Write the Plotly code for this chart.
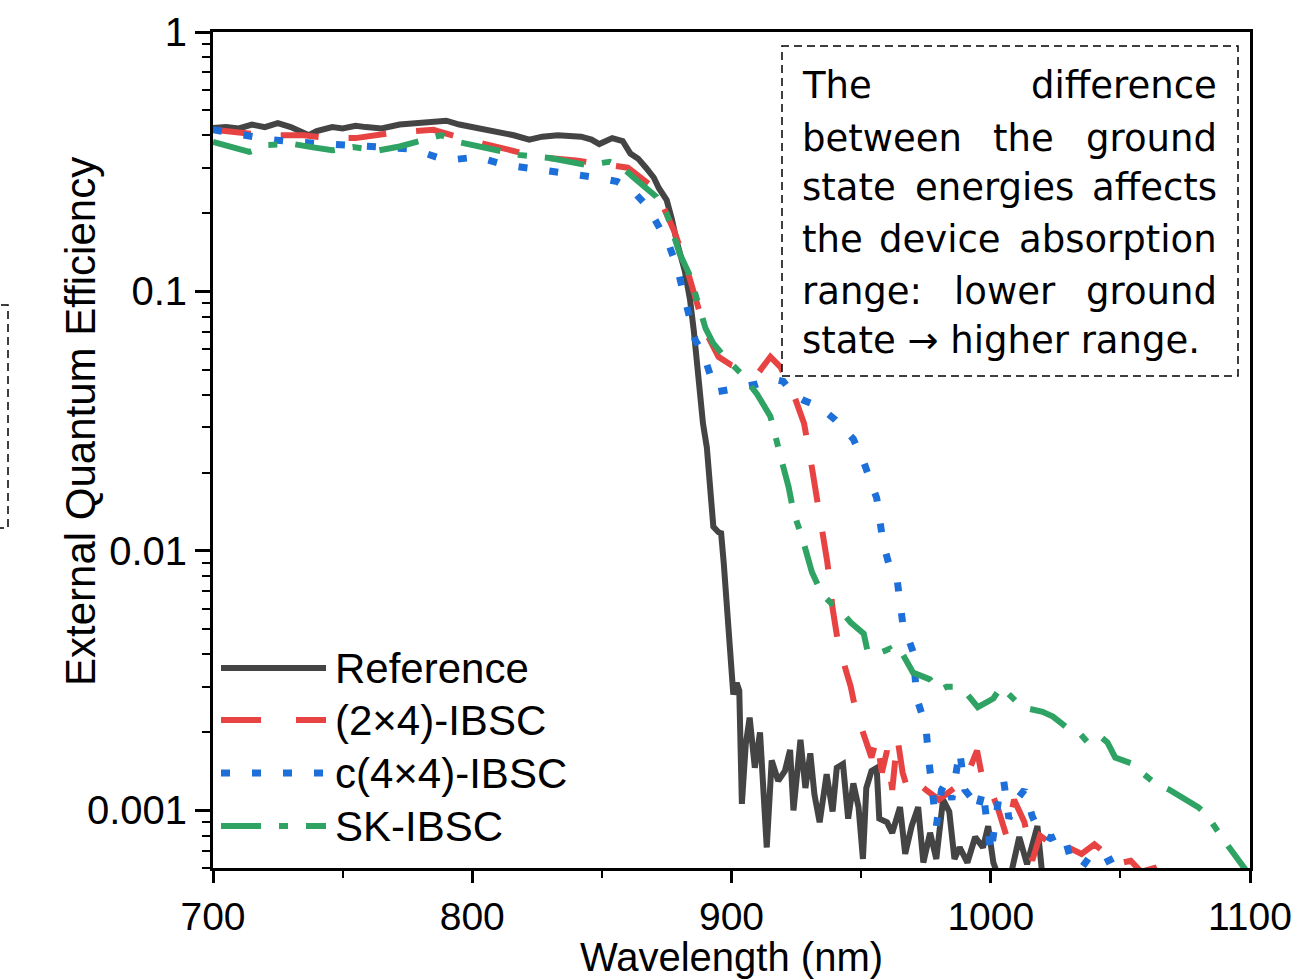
import plotly.graph_objects as go
import math

# ---------------- data ----------------
ref_wl = [700, 705, 710, 715, 720, 725, 730, 735, 737, 740, 746, 750, 755, 759, 765, 772, 778, 785, 790, 795,
          800, 805, 811, 816, 822, 827, 833, 838, 842, 846, 849, 854, 858, 861, 864, 867, 870, 872, 875, 877,
          879, 882, 884, 885.5, 886.7, 888, 889, 890.5, 892, 893, 895, 896, 897, 898, 899, 900, 900.7, 902, 903, 904,
          905.5, 907, 909, 911, 913.6, 915.5, 918, 920.6, 922.6, 923.9, 926.6, 928.5, 930.4, 932, 934, 936.7, 939, 940.6, 943, 945,
          947, 949, 950.7, 952, 954, 956, 957, 960, 962, 965, 967, 969.5, 972, 974, 976.6, 979, 981.6, 984, 986, 988,
          991, 994, 997, 999, 1001, 1004, 1008, 1011, 1014, 1018, 1020, 1025, 1030]
ref_eqe = [0.427, 0.43, 0.425, 0.44, 0.43, 0.445, 0.43, 0.41, 0.40, 0.415, 0.43, 0.425, 0.435, 0.43, 0.425, 0.44, 0.445, 0.45, 0.455, 0.44,
           0.43, 0.425, 0.41, 0.40, 0.385, 0.395, 0.40, 0.40, 0.395, 0.385, 0.37, 0.39, 0.38, 0.34, 0.325, 0.30, 0.275, 0.25, 0.225, 0.19,
           0.154, 0.12, 0.093, 0.07, 0.051, 0.038, 0.031, 0.025, 0.017, 0.0124, 0.0118, 0.0117, 0.009, 0.0065, 0.0045, 0.0031, 0.0028, 0.0031, 0.0029, 0.00106,
           0.0018, 0.00228, 0.00146, 0.0020, 0.00072, 0.00156, 0.00130, 0.00142, 0.00171, 0.00100, 0.00187, 0.00122, 0.00166, 0.00115, 0.00090, 0.00138, 0.00099, 0.00146, 0.00151, 0.00093,
           0.00127, 0.00103, 0.00065, 0.00122, 0.00142, 0.00146, 0.00093, 0.00090, 0.00082, 0.00103, 0.00068, 0.00087, 0.00103, 0.00063, 0.00082, 0.00065, 0.00110, 0.00099, 0.00065, 0.00072,
           0.00063, 0.00079, 0.00072, 0.00087, 0.00063, 0.00052, 0.00058, 0.00079, 0.00062, 0.00087, 0.00055, 0.00050, 0.00048]

ibsc24_wl = [700, 710, 720, 735, 745, 755, 770, 785, 800, 815, 825, 840, 850, 860, 868, 873, 878, 882, 886, 890,
             895, 900, 906, 910, 915, 919, 924, 928, 931, 934, 937, 939, 941, 944, 946, 948, 950, 952, 954, 956,
             958, 960, 962, 964, 966, 968, 971, 975, 980, 985, 990, 994.7, 997, 1000, 1003, 1006, 1009, 1013, 1016, 1019,
             1022, 1026, 1030, 1035, 1040, 1043, 1048, 1054, 1058, 1063, 1066]
ibsc24_eqe = [0.42, 0.41, 0.40, 0.40, 0.39, 0.39, 0.41, 0.42, 0.38, 0.35, 0.33, 0.32, 0.31, 0.30, 0.26, 0.22, 0.17, 0.13, 0.095, 0.07,
              0.056, 0.052, 0.050, 0.048, 0.056, 0.051, 0.040, 0.031, 0.021, 0.014, 0.009, 0.006, 0.0045, 0.0035, 0.0030, 0.0024, 0.0021, 0.0019, 0.0016, 0.0019,
              0.0014, 0.0017, 0.0012, 0.0019, 0.0014, 0.0012, 0.0013, 0.0012, 0.0011, 0.0012, 0.0013, 0.0017, 0.0013, 0.0012, 0.0010, 0.0008, 0.0011, 0.0009, 0.00064, 0.0008,
              0.00076, 0.0008, 0.00072, 0.00068, 0.00074, 0.0007, 0.00062, 0.00064, 0.00058, 0.0006, 0.00052]

ibsc44_wl = [700, 706, 712, 722, 735, 745, 760, 777, 790, 802, 813, 826, 836, 849, 856, 862, 868, 872, 876, 879,
             883, 886, 889, 894, 900, 905, 910, 916, 920, 924, 928, 934, 940, 947, 951, 956, 958.5, 961, 964, 966,
             970, 971.5, 973, 975, 976, 977, 978, 979, 981, 983, 985, 988, 990, 993, 995, 997, 1000, 1003, 1005, 1007,
             1010, 1013, 1016, 1019, 1023, 1028, 1031, 1035, 1039, 1044, 1048, 1052]
ibsc44_eqe = [0.42, 0.41, 0.40, 0.385, 0.375, 0.37, 0.36, 0.354, 0.32, 0.33, 0.307, 0.296, 0.286, 0.274, 0.265, 0.244, 0.21, 0.177, 0.15, 0.124,
              0.085, 0.065, 0.058, 0.041, 0.042, 0.043, 0.044, 0.046, 0.045, 0.040, 0.038, 0.036, 0.032, 0.027, 0.022, 0.016, 0.0107, 0.0087, 0.0076, 0.0053,
              0.0041, 0.0027, 0.0024, 0.0021, 0.0016, 0.0013, 0.0010, 0.00087, 0.0012, 0.0013, 0.0011, 0.0017, 0.0012, 0.0011, 0.0010, 0.0012, 0.00068, 0.0011, 0.0013, 0.00093,
              0.0011, 0.0012, 0.00095, 0.00082, 0.00078, 0.00082, 0.00064, 0.0006, 0.00068, 0.00063, 0.00066, 0.00055]

sk_wl = [700, 707, 714, 721, 731, 738, 746, 754, 764, 772, 779, 788, 795, 803, 811, 818, 830, 837, 844, 853,
         858, 862, 867, 871, 875, 878, 880, 884, 888, 890, 893, 898, 904, 910, 915, 917.5, 919.5, 922, 924, 927,
         929, 931, 935, 939, 942, 946, 951, 952.5, 956, 961, 963, 966, 970, 976.5, 980, 983, 986, 991, 995, 998.5,
         1001, 1004, 1007, 1012, 1020, 1024, 1029, 1034, 1038, 1043, 1045, 1048, 1054, 1058, 1063, 1069, 1072, 1076, 1080, 1083,
         1085, 1088, 1092, 1095, 1098, 1100]
sk_eqe = [0.377, 0.36, 0.345, 0.367, 0.37, 0.36, 0.35, 0.36, 0.35, 0.362, 0.376, 0.40, 0.376, 0.36, 0.345, 0.336, 0.327, 0.317, 0.307, 0.316,
          0.30, 0.276, 0.25, 0.232, 0.20, 0.165, 0.14, 0.115, 0.085, 0.072, 0.063, 0.055, 0.048, 0.040, 0.033, 0.027, 0.022, 0.0177, 0.014, 0.0115,
          0.0098, 0.0083, 0.0068, 0.0062, 0.0059, 0.0053, 0.0048, 0.0041, 0.0040, 0.0042, 0.0039, 0.0040, 0.0034, 0.0032, 0.0029, 0.0030, 0.0030, 0.0028, 0.0025, 0.0026,
          0.0027, 0.0030, 0.0028, 0.0025, 0.0024, 0.0023, 0.0021, 0.0020, 0.0018, 0.0019, 0.00183, 0.0016, 0.00152, 0.0014, 0.00128, 0.0012, 0.00115, 0.0011, 0.00103, 0.00097,
          0.0009, 0.00082, 0.00072, 0.00065, 0.0006, 0.00056]

x_ticks = [700, 800, 900, 1000, 1100]
x_minor = [750, 850, 950, 1050]
y_ticks = [0.001, 0.01, 0.1, 1]
y_ticktext = ["0.001", "0.01", "0.1", "1"]
y_minor = [m * 10.0 ** e for e in (-4, -3, -2, -1) for m in range(2, 10) if m * 10.0 ** e >= 0.0006]

names = ["Reference", "(2×4)-IBSC", "c(4×4)-IBSC", "SK-IBSC"]
colors = ["#444444", "#E84343", "#1D6FDA", "#2FA363"]
dashes = ["solid", "38px,30px", "9px,22px", "40px,18px,9px,18px"]
widths = [6, 6, 7, 6]

note_lines = [
    ["The", "difference"],
    ["between", "the", "ground"],
    ["state", "energies", "affects"],
    ["the", "device", "absorption"],
    ["range:", "lower", "ground"],
    ["state → higher range."],
]

# ---------------- layout geometry (px) ----------------
W, H = 1303, 979
L, R, T, B = 213, 1250, 32, 868


def px(x):
    return (x - L) / (R - L)


def py(y):
    return (B - y) / (B - T)


fig = go.Figure()
series = [(ref_wl, ref_eqe), (ibsc24_wl, ibsc24_eqe), (ibsc44_wl, ibsc44_eqe), (sk_wl, sk_eqe)]
for (xs, ys), n, c, d, w in zip(series, names, colors, dashes, widths):
    fig.add_trace(go.Scatter(x=xs, y=ys, mode="lines", name=n,
                             line=dict(color=c, width=w, dash=d), showlegend=False))

FONT = "Liberation Sans, Arial, sans-serif"
shapes = []
annotations = []

# custom legend
leg_y = [668, 720, 773, 826]
for i, (n, c, d, w) in enumerate(zip(names, colors, dashes, widths)):
    shapes.append(dict(type="line", xref="paper", yref="paper",
                       x0=px(221), x1=px(326), y0=py(leg_y[i]), y1=py(leg_y[i]),
                       line=dict(color=c, width=w, dash=d if i != 1 else "40px,35px")))
    annotations.append(dict(text=n, xref="paper", yref="paper", x=px(333), y=py(leg_y[i]),
                            xanchor="left", yanchor="middle", showarrow=False,
                            font=dict(family=FONT, size=42, color="black")))

# y-axis title (placed as in the reference)
annotations.append(dict(text="External Quantum Efficiency", xref="paper", yref="paper",
                        x=px(80), y=py(422), xanchor="center", yanchor="middle", textangle=-90,
                        showarrow=False, font=dict(family=FONT, size=42, color="black")))

# note box
shapes.append(dict(type="rect", xref="paper", yref="paper", x0=px(782), x1=px(1238), y0=py(376), y1=py(46),
                   line=dict(color="black", width=1.5, dash="8px,5px"), fillcolor="white", layer="above"))
# partial dashed box at left edge
shapes.append(dict(type="rect", xref="paper", yref="paper", x0=px(-30), x1=px(8), y0=py(528), y1=py(305),
                   line=dict(color="black", width=1.5, dash="8px,5px"), fillcolor="rgba(0,0,0,0)"))

line_y = [86, 138, 188, 240, 291, 341]
mid_centers = {1: [1023], 2: [994], 3: [940], 4: [1005]}
NOTE_FONT = dict(family="DejaVu Sans, Verdana, sans-serif", size=37, color="black")
for i, words in enumerate(note_lines):
    yv = py(line_y[i])
    annotations.append(dict(text=words[0], xref="paper", yref="paper", x=px(800), y=yv,
                            xanchor="left", yanchor="middle", showarrow=False, font=NOTE_FONT))
    if len(words) == 1:
        continue
    annotations.append(dict(text=words[-1], xref="paper", yref="paper", x=px(1219), y=yv,
                            xanchor="right", yanchor="middle", showarrow=False, font=NOTE_FONT))
    for w, cx in zip(words[1:-1], mid_centers.get(i, [])):
        annotations.append(dict(text=w, xref="paper", yref="paper", x=px(cx), y=yv,
                                xanchor="center", yanchor="middle", showarrow=False, font=NOTE_FONT))

fig.update_layout(
    width=W, height=H,
    margin=dict(l=L, r=W - R, t=T, b=H - B, autoexpand=False),
    paper_bgcolor="white", plot_bgcolor="white",
    showlegend=False,
    shapes=shapes, annotations=annotations,
    font=dict(family=FONT, size=40, color="black"),
)
fig.update_xaxes(
    range=[700, 1100], tickmode="array", tickvals=x_ticks,
    ticks="outside", ticklen=12, tickwidth=2.5, tickcolor="black",
    showline=True, linewidth=3, linecolor="black", mirror=True,
    showgrid=False, zeroline=False, ticklabelstandoff=0,
    tickfont=dict(family=FONT, size=39, color="black"),
    minor=dict(tickmode="array", tickvals=x_minor, ticks="outside", ticklen=7, tickwidth=2, tickcolor="black", showgrid=False),
    title=dict(text="Wavelength (nm)", font=dict(family=FONT, size=40, color="black"), standoff=16),
)
fig.update_yaxes(
    type="log", range=[math.log10(0.0006), 0], tickmode="array", tickvals=y_ticks, ticktext=y_ticktext,
    ticks="outside", ticklen=15, tickwidth=2.5, tickcolor="black",
    showline=True, linewidth=3, linecolor="black", mirror=True,
    showgrid=False, zeroline=False, ticklabelstandoff=0,
    tickfont=dict(family=FONT, size=40, color="black"),
    minor=dict(tickmode="array", tickvals=y_minor, ticks="outside", ticklen=8, tickwidth=2, tickcolor="black", showgrid=False),
)

fig.write_html("out.html")
